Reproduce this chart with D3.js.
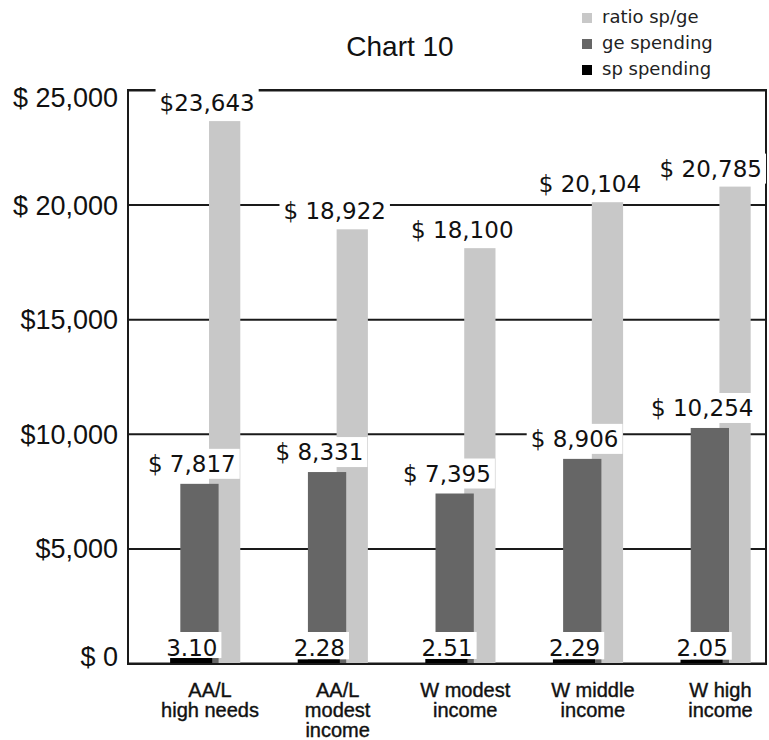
<!DOCTYPE html>
<html>
<head>
<meta charset="utf-8">
<script src="https://cdn.jsdelivr.net/npm/d3@7"></script>
<style>
  body { margin: 0; background: #fff; }
  svg { display: block; }
</style>
</head>
<body>
<svg id="chart" width="769" height="740"></svg>
<script>
// Per-group spending and ratio figures
const categories = ["AA/L high needs", "AA/L modest income", "W modest income", "W middle income", "W high income"];
const categoryLines = [["AA/L", "high needs"], ["AA/L", "modest", "income"], ["W modest", "income"], ["W middle", "income"], ["W high", "income"]];
const spSpending = [23643, 18922, 18100, 20104, 20785];
const geSpending = [7817, 8331, 7395, 8906, 10254];
const ratioSpGe = [3.10, 2.28, 2.51, 2.29, 2.05];
const spPrefix = ["$", "$ ", "$ ", "$ ", "$ "];
const tickValues = [0, 5000, 10000, 15000, 20000, 25000];
const tickLabels = ["$ 0", "$5,000", "$10,000", "$15,000", "$ 20,000", "$ 25,000"];
const legendItems = ["ratio sp/ge", "ge spending", "sp spending"];

const COLORS = { light: "#c8c8c8", dark: "#666666", black: "#000000", line: "#1a1a1a" };
const plot = { left: 128, right: 766, top: 90, bottom: 663 };

const svg = d3.select("#chart");

const x = d3.scaleBand().domain(d3.range(categories.length)).range([plot.left, plot.right]);
const bw = x.bandwidth();
const y = d3.scaleLinear().domain([0, 25000]).range([plot.bottom, plot.top]);
// ratios are tiny next to dollar amounts; give them their own small scale
const yRatio = d3.scaleLinear().domain([0, 10]).range([plot.bottom, plot.bottom - 16]);

// bar placement inside each band
const geo = {
  light: { off: 0.635, w: 0.245 },
  dark:  { off: 0.41,  w: 0.30 },
  black: { off: 0.33,  w: 0.33 },
  center: 0.643
};

// title
svg.append("text")
  .attr("x", 400).attr("y", 56)
  .attr("text-anchor", "middle")
  .style("font-family", "'Liberation Sans', Arial, sans-serif")
  .style("font-size", "28px")
  .style("fill", "#111")
  .text("Chart 10");

// legend
const legend = svg.append("g");
const legendColors = [COLORS.light, COLORS.dark, COLORS.black];
legendItems.forEach((name, i) => {
  const base = 23 + i * 26;
  legend.append("rect")
    .attr("x", 582).attr("y", base - 10)
    .attr("width", 10).attr("height", 10)
    .attr("fill", legendColors[i]);
  legend.append("text")
    .attr("x", 602).attr("y", base)
    .style("font-family", "'DejaVu Sans', sans-serif")
    .style("font-size", "18px")
    .style("fill", "#222")
    .text(name);
});

// y axis with gridlines
const yAxis = d3.axisLeft(y)
  .tickValues(tickValues)
  .tickSize(-(plot.right - plot.left))
  .tickPadding(10)
  .tickFormat((d, i) => tickLabels[i]);

const axisG = svg.append("g")
  .attr("transform", `translate(${plot.left},0)`)
  .call(yAxis);
axisG.select(".domain").remove();
axisG.selectAll(".tick line").attr("stroke", COLORS.line).attr("stroke-width", 2);
axisG.selectAll(".tick text")
  .style("font-family", "'Liberation Sans', Arial, sans-serif")
  .style("font-size", "27px")
  .style("fill", "#111")
  .attr("dy", (d) => d === 25000 ? "0.62em" : d === 0 ? "0.09em" : "0.35em");

// frame
svg.append("rect")
  .attr("x", plot.left).attr("y", plot.top)
  .attr("width", plot.right - plot.left).attr("height", plot.bottom - plot.top + 1)
  .attr("fill", "none")
  .attr("stroke", COLORS.line)
  .attr("stroke-width", 2);

// bars
const bars = svg.append("g");
bars.selectAll("rect.sp")
  .data(spSpending)
  .join("rect")
  .attr("class", "sp")
  .attr("x", (d, i) => x(i) + geo.light.off * bw)
  .attr("width", geo.light.w * bw)
  .attr("y", d => y(d))
  .attr("height", d => y(0) - y(d))
  .attr("fill", COLORS.light);

bars.selectAll("rect.ge")
  .data(geSpending)
  .join("rect")
  .attr("class", "ge")
  .attr("x", (d, i) => x(i) + geo.dark.off * bw)
  .attr("width", geo.dark.w * bw)
  .attr("y", d => y(d))
  .attr("height", d => y(0) - y(d))
  .attr("fill", COLORS.dark);

// value labels on white boxes
const labels = svg.append("g")
  .style("font-family", "'DejaVu Sans', sans-serif")
  .style("font-size", "23px")
  .style("fill", "#111");

function boxedLabel(text, cx, baseline, boxTop, boxBottom, clampRight) {
  const t = labels.append("text")
    .attr("y", baseline)
    .attr("text-anchor", "middle")
    .text(text);
  const w = t.node().getComputedTextLength();
  if (clampRight) cx = Math.min(cx, plot.right - 4 - w / 2);
  t.attr("x", cx);
  labels.insert("rect", () => t.node())
    .attr("x", cx - w / 2 - 4)
    .attr("y", boxTop)
    .attr("width", w + 8)
    .attr("height", boxBottom - boxTop)
    .attr("fill", "#fff");
}

spSpending.forEach((v, i) => {
  const b = y(v) - 10;
  boxedLabel(spPrefix[i] + d3.format(",")(v), x(i) + 0.62 * bw, b, b - 23, b + 7, true);
});

geSpending.forEach((v, i) => {
  const b = y(v) - 12;
  boxedLabel("$ " + d3.format(",")(v), x(i) + 0.5 * bw, b, b - 23, b + 7, true);
});

ratioSpGe.forEach((v, i) => {
  const top = yRatio(v);
  const b = y(0) - 7;
  boxedLabel(d3.format(".2f")(v), x(i) + 0.5 * bw, b, b - 24, Math.min(b + 7, top), false);
});

// ratio bars sit on the baseline, above the label boxes
svg.append("g").selectAll("rect")
  .data(ratioSpGe)
  .join("rect")
  .attr("x", (d, i) => x(i) + geo.black.off * bw)
  .attr("width", geo.black.w * bw)
  .attr("y", d => yRatio(d))
  .attr("height", d => yRatio(0) - yRatio(d))
  .attr("fill", COLORS.black);

// category labels
const catG = svg.append("g")
  .style("font-family", "'Liberation Sans', Arial, sans-serif")
  .style("font-size", "20px")
  .style("fill", "#111")
  .style("stroke", "#111")
  .style("stroke-width", "0.4px");
categoryLines.forEach((lines, i) => {
  const t = catG.append("text")
    .attr("text-anchor", "middle")
    .attr("x", x(i) + geo.center * bw)
    .attr("y", plot.bottom + 34);
  lines.forEach((ln, j) => {
    t.append("tspan")
      .attr("x", x(i) + geo.center * bw)
      .attr("dy", j === 0 ? 0 : 20)
      .text(ln);
  });
});
</script>
</body>
</html>
